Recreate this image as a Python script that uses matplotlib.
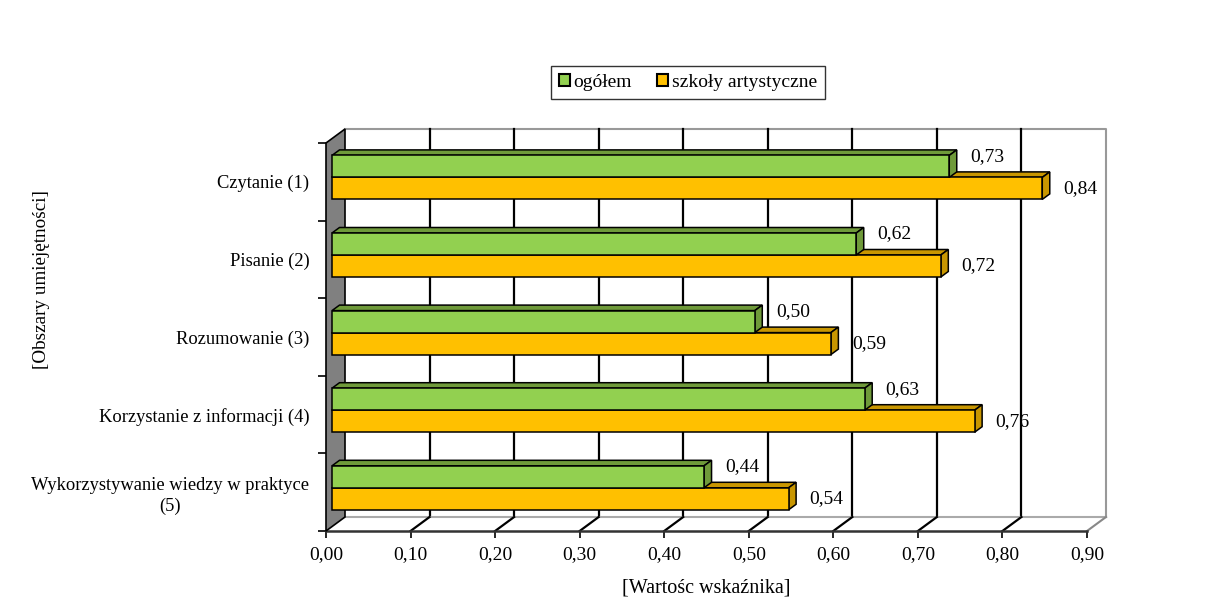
import matplotlib
matplotlib.use("Agg")
import matplotlib.pyplot as plt
from matplotlib.patches import Polygon, Rectangle, Patch

plt.rcParams['font.family'] = ['Liberation Serif', 'DejaVu Serif']

categories = ["Czytanie (1)", "Pisanie (2)", "Rozumowanie (3)",
              "Korzystanie z informacji (4)", "Wykorzystywanie wiedzy w praktyce\n(5)"]
ogolem = [0.73, 0.62, 0.50, 0.63, 0.44]
artystyczne = [0.84, 0.72, 0.59, 0.76, 0.54]
series_names = ["ogółem", "szkoły artystyczne"]
xticks = [0.0, 0.1, 0.2, 0.3, 0.4, 0.5, 0.6, 0.7, 0.8, 0.9]
xticklabels = ["0,00", "0,10", "0,20", "0,30", "0,40", "0,50", "0,60", "0,70", "0,80", "0,90"]
xlabel = "[Wartośc wskaźnika]"
ylabel = "[Obszary umiejętności]"

green, green_dark = "#92D050", "#6F9A3A"
orange, orange_dark = "#FFC000", "#C89600"
FS_NUM = 14
FS_CAT = 13.3
FS_TITLE = 14.5

W, H = 1210, 611
fig = plt.figure(figsize=(W / 100, H / 100), dpi=100)
ax_l, ax_r, ax_t, ax_b = 326, 1087, 143, 531
ax = fig.add_axes([ax_l / W, (H - ax_b) / H, (ax_r - ax_l) / W, (ax_b - ax_t) / H])
XMAX, NC = 0.9, len(categories)
ax.set_xlim(0, XMAX)
ax.set_ylim(NC, 0)
for s in ax.spines.values():
    s.set_visible(False)

sx = XMAX / (ax_r - ax_l)
sy = NC / (ax_b - ax_t)
WDX, WDY = 19 * sx, 14 * sy          # wall depth
BOX, BOY = 6 * sx, 4.4 * sy          # bar front offset from front plane
BDX, BDY = 7.5 * sx, 5.5 * sy        # bar depth
BH = 22 * sy                         # bar thickness

kw = dict(clip_on=False)
# back wall
ax.add_patch(Rectangle((WDX, -WDY), XMAX, NC, facecolor="white", edgecolor="none", zorder=0, **kw))
ax.plot([WDX, XMAX + WDX, XMAX + WDX], [-WDY, -WDY, NC - WDY], color="#999999", lw=1.5, zorder=1, **kw)
for v in xticks[1:-1]:
    ax.plot([v + WDX, v + WDX], [-WDY, NC - WDY], color="black", lw=1.6, zorder=1, **kw)
# floor
ax.add_patch(Polygon([(0, NC), (XMAX, NC), (XMAX + WDX, NC - WDY), (WDX, NC - WDY)],
                     facecolor="white", edgecolor="none", zorder=1, **kw))
ax.plot([WDX, XMAX + WDX], [NC - WDY, NC - WDY], color="#aaaaaa", lw=1.5, zorder=1.5, **kw)
ax.plot([XMAX, XMAX + WDX], [NC, NC - WDY], color="#888888", lw=1.5, zorder=1.5, **kw)
for v in xticks[1:-1]:
    ax.plot([v, v + WDX], [NC, NC - WDY], color="black", lw=1.6, zorder=1.5, **kw)
ax.plot([0, XMAX], [NC, NC], color="#333333", lw=1.8, zorder=2, **kw)
# left wall
ax.add_patch(Polygon([(0, 0), (WDX, -WDY), (WDX, NC - WDY), (0, NC)],
                     facecolor="#808080", edgecolor="black", lw=1.2, zorder=2, **kw))


def bar3d(y_top, v, front, dark):
    x0 = BOX
    yt = y_top - BOY
    yb = yt + BH
    x1 = x0 + v
    ax.add_patch(Polygon([(x0, yt), (x1, yt), (x1 + BDX, yt - BDY), (x0 + BDX, yt - BDY)],
                         facecolor=dark, edgecolor="black", lw=1.1, zorder=3, **kw))
    ax.add_patch(Polygon([(x1, yt), (x1 + BDX, yt - BDY), (x1 + BDX, yb - BDY), (x1, yb)],
                         facecolor=dark, edgecolor="black", lw=1.1, zorder=3, **kw))
    ax.add_patch(Rectangle((x0, yt), v, BH, facecolor=front, edgecolor="black", lw=1.1, zorder=3, **kw))
    return x1, (yt + yb) / 2


LOFF = 38 * sx
for i, (g, o) in enumerate(zip(ogolem, artystyczne)):
    c = i + 0.5
    xe, ym = bar3d(c, o, orange, orange_dark)
    ax.text(xe + LOFF, ym, f"{o:.2f}".replace(".", ","), ha="center", va="center", fontsize=FS_NUM, zorder=5)
    xe, ym = bar3d(c - BH, g, green, green_dark)
    ax.text(xe + LOFF, ym - 10 * sy, f"{g:.2f}".replace(".", ","), ha="center", va="center", fontsize=FS_NUM, zorder=5)

ax.set_xticks(xticks)
ax.set_xticklabels(xticklabels, fontsize=FS_NUM)
ax.tick_params(axis="x", length=5, width=1.2, pad=6, color="black")
ax.set_yticks(range(NC + 1))
ax.set_yticklabels([])
ax.tick_params(axis="y", which="major", length=5.5, width=1.2, color="black")
ax.set_yticks([i + 0.5 for i in range(NC)], minor=True)
ax.set_yticklabels(categories, minor=True, fontsize=FS_CAT, multialignment="center", linespacing=1.3)
ax.tick_params(axis="y", which="minor", length=0, pad=12)

fig.text(706 / W, 1 - 588 / H, xlabel, ha="center", va="center", fontsize=FS_TITLE)
fig.text(42 / W, 1 - 280 / H, ylabel, ha="center", va="center", rotation=90, fontsize=13.8)

handles = [Patch(facecolor=green, edgecolor="black", lw=1.5),
           Patch(facecolor=orange, edgecolor="black", lw=1.5)]
leg = fig.legend(handles, series_names, loc="center", bbox_to_anchor=(688 / W, 1 - 82.5 / H),
                 ncol=2, fontsize=FS_NUM, frameon=True, fancybox=False, edgecolor="black",
                 handlelength=0.55, handleheight=0.55, handletextpad=0.2, columnspacing=1.3,
                 borderpad=0.4, borderaxespad=0)
leg.get_frame().set_linewidth(1.0)

fig.savefig("out.png", dpi=100)
